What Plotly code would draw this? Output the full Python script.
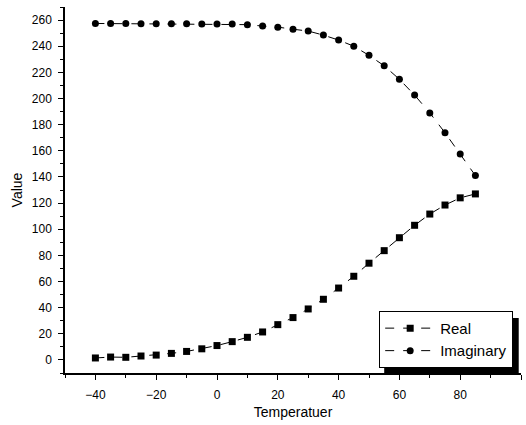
import plotly.graph_objects as go

temperature = [-40, -35, -30, -25, -20, -15, -10, -5, 0, 5, 10, 15, 20, 25, 30, 35, 40, 45, 50, 55, 60, 65, 70, 75, 80, 85]
real = [1.5, 2.2, 2, 3, 3.7, 5, 6.5, 8.5, 11, 14, 17.3, 21.4, 27, 32.4, 39, 46.4, 55, 64, 74, 83.6, 93.5, 103, 111.6, 118.5, 124, 127]
imaginary = [257.4, 257.3, 257.3, 257.2, 257.2, 257.1, 257.1, 257, 257, 257, 256.5, 255.4, 254.6, 253, 251.6, 248.5, 244.7, 240, 233, 225, 214.7, 202.6, 189, 173.8, 157.5, 141]

font = "Liberation Sans, Arial, sans-serif"

fig = go.Figure()
fig.add_trace(go.Scatter(x=temperature, y=real, name="Real", mode="lines+markers",
                         line=dict(color="black", width=1, dash="dash"),
                         marker=dict(symbol="square", size=7, color="black")))
fig.add_trace(go.Scatter(x=temperature, y=imaginary, name="Imaginary", mode="lines+markers",
                         line=dict(color="black", width=1, dash="dash"),
                         marker=dict(symbol="circle", size=7, color="black")))

axis_common = dict(showgrid=False, zeroline=False, showline=True, linecolor="black", linewidth=1.5,
                   ticks="outside", ticklen=5, tickwidth=1.2, tickcolor="black",
                   tickfont=dict(family=font, size=12, color="black"),
                   minor=dict(ticks="outside", ticklen=3, tickwidth=1, tickcolor="black"))

fig.update_xaxes(range=[-50, 100], dtick=20, tick0=-40, minor_dtick=10, ticklabelstandoff=5,
                 title=dict(text="Temperatuer", font=dict(family=font, size=14, color="black"), standoff=6),
                 **axis_common)
fig.update_yaxes(range=[-10, 270], dtick=20, tick0=0, minor_dtick=10, ticklabelstandoff=4,
                 title=dict(text="Value", font=dict(family=font, size=14, color="black"), standoff=6),
                 **axis_common)

# legend drop shadow (offset right/down from the legend box)
fig.add_shape(type="rect", xref="paper", yref="paper", x0=0.70, x1=0.995, y0=0.0, y1=0.15,
              fillcolor="black", line=dict(width=0), layer="above")

fig.update_layout(
    width=526, height=425,
    margin=dict(l=65, r=5, t=7, b=52),
    paper_bgcolor="white", plot_bgcolor="white",
    showlegend=True,
    legend=dict(x=0.689, y=0.014, xanchor="left", yanchor="bottom",
                bgcolor="white", bordercolor="black", borderwidth=1,
                font=dict(family=font, size=15, color="black"),
                tracegroupgap=0, itemwidth=50),
)

fig.write_html("out.html")
